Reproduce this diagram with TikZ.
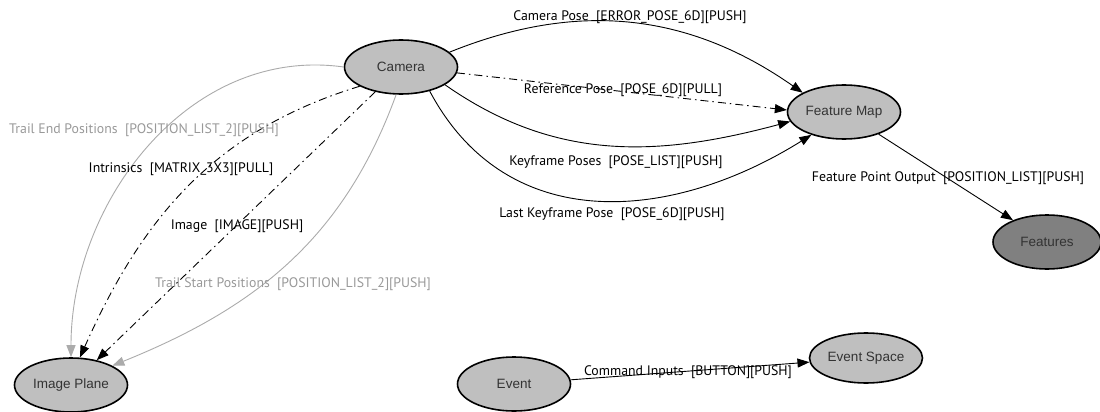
\documentclass[tikz,border=0pt]{standalone}
\usepackage{fontspec}
\setmainfont{Liberation Sans}
\newfontfamily\edgefont{PT Sans}
\usetikzlibrary{shapes.geometric,arrows.meta}

\begin{document}
\begin{tikzpicture}[x=1pt, y=-1pt,
        state/.style={ellipse, draw=black, line width=1.6pt, fill=black!25,
            inner sep=0pt, minimum width=113pt, minimum height=54pt,
            font=\fontsize{13.5}{15}\selectfont, text=black!80},
        link/.style={line width=0.9pt, -{Triangle[length=12pt,width=9pt]}},
        faint/.style={link, draw=black!33},
        dotdash/.style={link, dash pattern=on 8pt off 4pt on 1.5pt off 4pt},
        lbl/.style={font=\edgefont\fontsize{13.8}{15}\selectfont, inner sep=0pt},
        faintlbl/.style={lbl, text=black!40},
    ]

    \useasboundingbox (0,0) rectangle (1100,412);

    % states
    \node[state] (camera) at (401,67) {Camera};
    \node[state] (featmap) at (844,112) {Feature Map};
    \node[state, fill=black!50, minimum width=108pt] (features) at (1047,242) {Features};
    \node[state] (imgplane) at (71,385) {Image Plane};
    \node[state] (event) at (514,384) {Event};
    \node[state, minimum height=50pt] (evspace) at (866,358) {Event Space};

    % camera -> feature map
    \draw[link] (camera.17) to[out=22,in=145] (featmap.155);
    \draw[dotdash] (camera.-6) -- (featmap.178);
    \draw[link] (camera.-22) to[out=-35,in=195] (featmap.190);
    \draw[link] (camera.-40) to[out=-62,in=212, looseness=1.1] (featmap.215);

    % camera -> image plane
    \draw[faint] (camera.180) to[out=172,in=90] (imgplane.90);
    \draw[dotdash] (camera.205) to[out=197,in=66] (imgplane.72);
    \draw[dotdash] (camera) -- (imgplane);
    \draw[faint] (camera.-100) to[out=-110,in=22] (imgplane.25);

    % outputs and events
    \draw[link] (featmap) -- (features);
    \draw[link] (event) -- (evspace);

    % edge labels
    \node[lbl] (lcampose) at (630,17) {Camera Pose\ \ [ERROR\_POSE\_6D][PUSH]};
    \node[lbl] (lrefpose) at (623,90) {Reference Pose\ \ [POSE\_6D][PULL]};
    \node[lbl] (lkeyposes) at (616,162) {Keyframe Poses\ \ [POSE\_LIST][PUSH]};
    \node[lbl] (llastkey) at (612,214) {Last Keyframe Pose\ \ [POSE\_6D][PUSH]};
    \node[lbl] (lfeatout) at (948,178) {Feature Point Output\ \ [POSITION\_LIST][PUSH]};
    \node[lbl] (lcommand) at (688,372) {Command Inputs\ \ [BUTTON][PUSH]};
    \node[faintlbl] (ltrailend) at (144,130) {Trail End Positions\ \ [POSITION\_LIST\_2][PUSH]};
    \node[lbl] (lintrin) at (181,169) {Intrinsics\ \ [MATRIX\_3X3][PULL]};
    \node[lbl] (limage) at (237,226) {Image\ \ [IMAGE][PUSH]};
    \node[faintlbl] (ltrailstart) at (293,284) {Trail Start Positions\ \ [POSITION\_LIST\_2][PUSH]};
\end{tikzpicture}
\end{document}
